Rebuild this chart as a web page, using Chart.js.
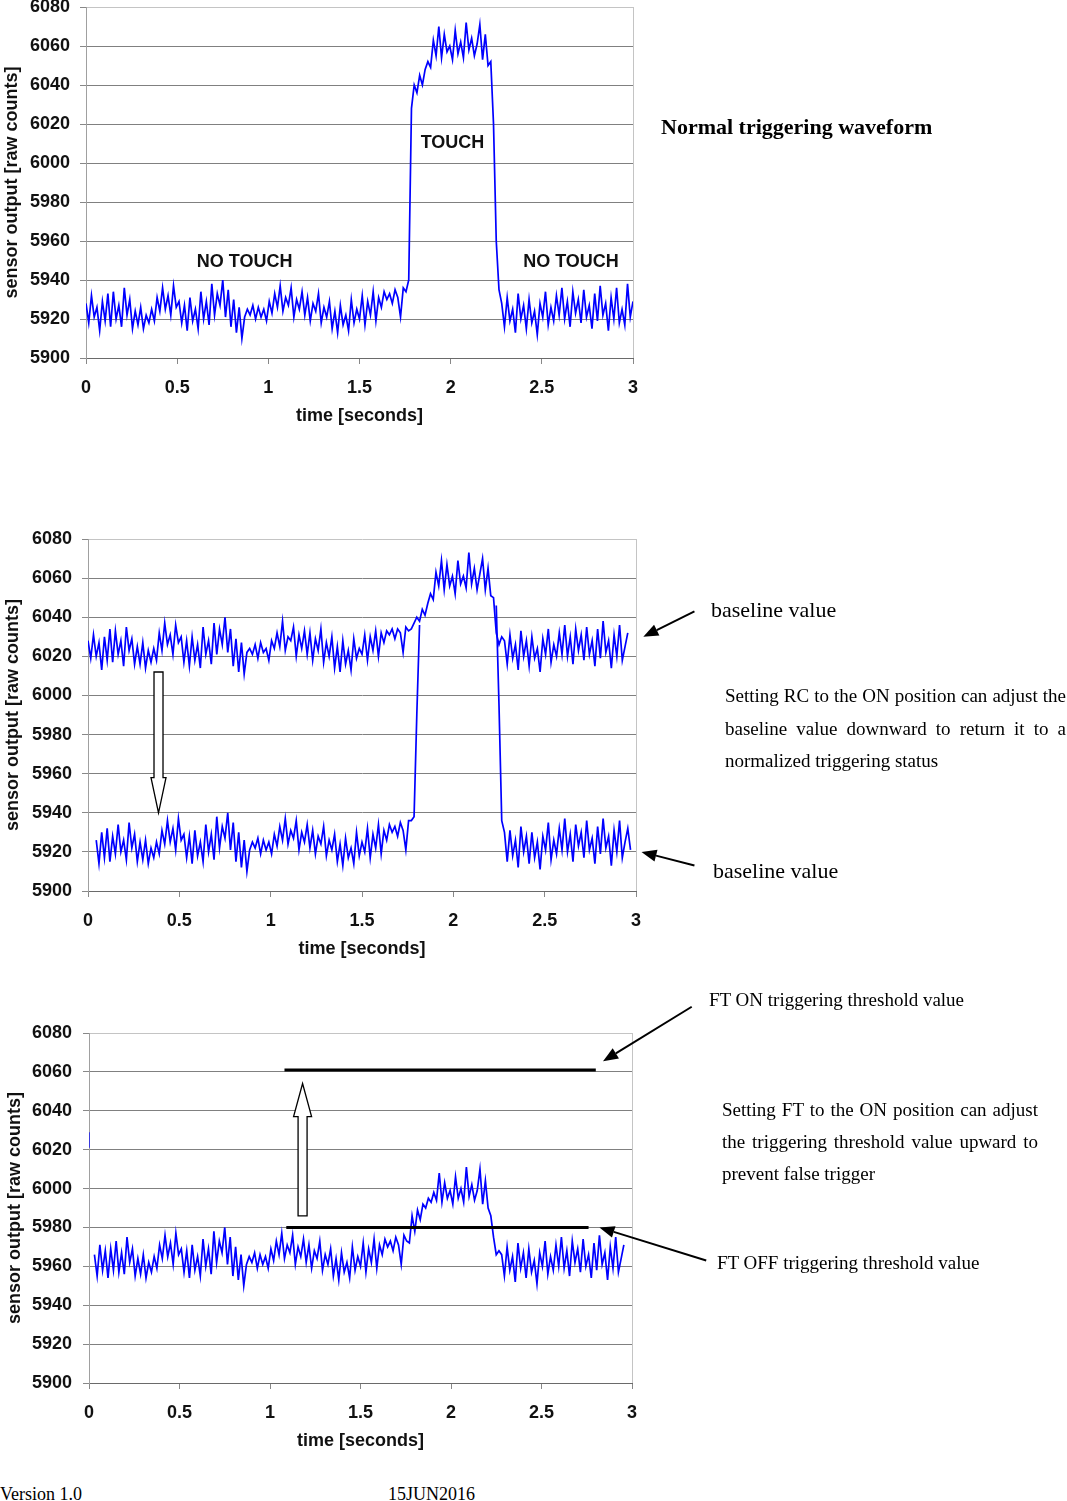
<!DOCTYPE html>
<html>
<head>
<meta charset="utf-8">
<script src="https://cdn.jsdelivr.net/npm/chart.js"></script>
<style>
  html, body { margin: 0; padding: 0; background: #fff; }
  body { position: relative; width: 1067px; height: 1501px; overflow: hidden; }
  canvas { position: absolute; left: 0; }
  .note { position: absolute; font-family: "Liberation Serif", "Times New Roman", serif; color: #000; white-space: nowrap; }
  .para div { text-align: justify; text-align-last: justify; white-space: normal; }
  .para div.last { text-align-last: left; }
</style>
</head>
<body>
<canvas id="chart1" width="1067" height="451" style="top:-23px"></canvas>
<canvas id="chart2" width="1067" height="452" style="top:509px"></canvas>
<canvas id="chart3" width="1067" height="450" style="top:1003px"></canvas>

<div class="note" style="left:661px; top:114px; font-size:22px; line-height:26px; font-weight:bold;">Normal triggering waveform</div>

<div class="note" style="left:711px; top:597px; font-size:22px; line-height:26px;">baseline value</div>
<div class="note para" style="left:725px; top:680px; width:341px; font-size:19px; line-height:32.5px;">
  <div>Setting RC to the ON position can adjust the</div>
  <div>baseline value downward to return it to a</div>
  <div class="last">normalized triggering status</div>
</div>
<div class="note" style="left:713px; top:858px; font-size:22px; line-height:26px;">baseline value</div>

<div class="note" style="left:709px; top:989px; font-size:19px; line-height:22px;">FT ON triggering threshold value</div>
<div class="note para" style="left:722px; top:1094px; width:316px; font-size:19px; line-height:32px;">
  <div>Setting FT to the ON position can adjust</div>
  <div>the triggering threshold value upward to</div>
  <div class="last">prevent false trigger</div>
</div>
<div class="note" style="left:717px; top:1252px; font-size:19px; line-height:22px;">FT OFF triggering threshold value</div>

<div class="note" style="left:0px; top:1484px; font-size:18px; line-height:20px;">Version 1.0</div>
<div class="note" style="left:388px; top:1484px; font-size:18px; line-height:20px;">15JUN2016</div>

<script>
// samples are 0.015 s apart, starting at t = 0
const timeStep = 0.015;
const xTicks = [0, 0.5, 1, 1.5, 2, 2.5, 3];
const yTicks = [5900, 5920, 5940, 5960, 5980, 6000, 6020, 6040, 6060, 6080];

// chart 1: normal triggering waveform
const c1Sensor = [
  5928, 5918, 5932, 5921, 5926, 5914, 5929, 5919, 5933, 5916,
  5934, 5920, 5927, 5916, 5936, 5922, 5930, 5915, 5924, 5917,
  5926, 5915, 5922, 5918, 5925, 5919, 5931, 5924, 5936, 5925,
  5932, 5922, 5937, 5926, 5929, 5918, 5927, 5914, 5931, 5919,
  5925, 5915, 5934, 5920, 5929, 5917, 5938, 5922, 5933, 5927,
  5940, 5921, 5935, 5916, 5930, 5913, 5926, 5910, 5921, 5925,
  5922, 5927, 5920, 5926, 5921, 5925, 5919, 5929, 5923, 5933,
  5926, 5937, 5924, 5931, 5927, 5936, 5921, 5930, 5925, 5934,
  5922, 5931, 5919, 5928, 5924, 5933, 5918, 5926, 5921, 5929,
  5915, 5924, 5913, 5927, 5917, 5922, 5914, 5930, 5918, 5925,
  5920, 5932, 5917, 5929, 5922, 5934, 5919, 5931, 5926, 5934,
  5930, 5933, 5928, 5935, 5931, 5921, 5936, 5934,
  5940, 6028, 6040, 6036, 6045, 6040, 6048, 6052, 6049,
  6063, 6055, 6070, 6054, 6066, 6057, 6060, 6053, 6068, 6056,
  6062, 6054, 6072, 6058, 6064, 6055, 6061, 6071, 6053, 6066, 6050,
  6052, 6020, 5960, 5935,
  5928, 5916, 5931, 5919, 5925, 5913, 5933, 5920, 5927, 5915,
  5930, 5918, 5924, 5912, 5928, 5921, 5934, 5917, 5926, 5919,
  5932, 5922, 5936, 5920, 5929, 5916, 5934, 5923, 5930, 5918,
  5935, 5921, 5927, 5915, 5933, 5919, 5937, 5922, 5928, 5914,
  5931, 5920, 5936, 5918, 5925, 5917, 5938, 5921, 5929
];

// chart 2: baseline drifted up (upper) and restored by RC (lower)
const c2Upper = [
  6028, 6019, 6031, 6020, 6027, 6013, 6030, 6018, 6034, 6017,
  6033, 6021, 6028, 6015, 6035, 6023, 6029, 6016, 6025, 6016,
  6027, 6014, 6023, 6017, 6024, 6018, 6032, 6023, 6037, 6026,
  6031, 6021, 6036, 6027, 6030, 6017, 6028, 6015, 6030, 6018,
  6026, 6014, 6035, 6021, 6028, 6016, 6037, 6021, 6034, 6026,
  6040, 6022, 6034, 6015, 6029, 6012, 6027, 6011, 6022, 6024,
  6021, 6026, 6019, 6027, 6022, 6024, 6018, 6028, 6024, 6032,
  6025, 6038, 6023, 6030, 6028, 6035, 6020, 6031, 6024, 6033,
  6021, 6032, 6018, 6029, 6023, 6034, 6017, 6027, 6020, 6030,
  6014, 6025, 6012, 6028, 6016, 6023, 6013, 6029, 6019, 6024,
  6021, 6031, 6018, 6030, 6023, 6033, 6020, 6032, 6027, 6033,
  6031, 6034, 6029, 6034, 6032, 6022, 6035, 6033,
  6034, 6037, 6040, 6038, 6044, 6041, 6047, 6052, 6049,
  6063, 6056, 6069, 6054, 6067, 6056, 6061, 6052, 6069, 6057,
  6061, 6055, 6073, 6057, 6065, 6054, 6062, 6070, 6054, 6065, 6051,
  6050, 6032, 6026, 6030,
  6028, 6016, 6031, 6019, 6026, 6013, 6033, 6020, 6028, 6015,
  6030, 6019, 6024, 6012, 6029, 6021, 6034, 6017, 6026, 6020,
  6032, 6021, 6036, 6020, 6030, 6016, 6034, 6023, 6031, 6018,
  6035, 6021, 6028, 6015, 6034, 6019, 6038, 6022, 6028, 6014,
  6031, 6020, 6036, 6018, 6025, 6032,
  null, null, null
];

const c2Lower = [
  null, null, null,
  5926, 5914, 5930, 5917, 5932, 5915, 5928, 5919, 5934, 5920,
  5926, 5916, 5935, 5922, 5929, 5915, 5925, 5916, 5926, 5914,
  5922, 5917, 5925, 5919, 5931, 5924, 5936, 5925, 5932, 5921,
  5937, 5926, 5929, 5917, 5928, 5914, 5931, 5918, 5925, 5915,
  5934, 5920, 5929, 5916, 5938, 5922, 5933, 5927, 5940, 5921,
  5935, 5915, 5930, 5912, 5926, 5910, 5921, 5925, 5922, 5927,
  5919, 5926, 5921, 5925, 5919, 5929, 5923, 5933, 5926, 5937,
  5924, 5931, 5927, 5936, 5921, 5930, 5925, 5934, 5922, 5931,
  5919, 5928, 5924, 5933, 5918, 5926, 5921, 5929, 5915, 5924,
  5913, 5927, 5917, 5922, 5914, 5930, 5918, 5925, 5920, 5932,
  5917, 5929, 5922, 5934, 5919, 5931, 5926, 5934, 5930, 5933,
  5928, 5935, 5931, 5921, 5936,
  5936, 5938, 5990, 6036,
  null, null, null, null, null, null, null, null, null, null,
  null, null, null, null, null, null, null, null, null, null,
  null, null, null, null, null, null, null,
  6046, 5995, 5936,
  5930, 5915, 5931, 5918, 5926, 5912, 5933, 5920, 5928, 5914,
  5930, 5917, 5925, 5911, 5928, 5921, 5935, 5916, 5926, 5919,
  5932, 5921, 5937, 5920, 5929, 5915, 5934, 5923, 5930, 5917,
  5936, 5921, 5927, 5914, 5933, 5919, 5937, 5922, 5928, 5913,
  5931, 5920, 5936, 5917, 5925, 5932, 5921,
  null, null
];

// chart 3: threshold adjustment with FT
const c3Sensor = [
  null, null,
  5966, 5955, 5971, 5958, 5968, 5954, 5969, 5958, 5973, 5957,
  5967, 5956, 5975, 5962, 5969, 5955, 5964, 5956, 5966, 5954,
  5962, 5957, 5965, 5959, 5971, 5964, 5976, 5965, 5972, 5961,
  5977, 5966, 5969, 5957, 5968, 5954, 5971, 5958, 5965, 5955,
  5974, 5960, 5969, 5956, 5978, 5962, 5973, 5967, 5980, 5961,
  5975, 5955, 5970, 5953, 5966, 5950, 5961, 5965, 5962, 5967,
  5959, 5966, 5961, 5965, 5959, 5969, 5963, 5973, 5966, 5977,
  5964, 5971, 5967, 5976, 5961, 5970, 5965, 5974, 5962, 5971,
  5959, 5968, 5964, 5973, 5958, 5966, 5961, 5969, 5955, 5964,
  5953, 5967, 5957, 5962, 5954, 5970, 5958, 5965, 5960, 5972,
  5957, 5969, 5962, 5974, 5959, 5971, 5966, 5974, 5970, 5973,
  5968, 5975, 5971, 5961, 5976, 5973,
  5972, 5986, 5978, 5989, 5984, 5992, 5990, 5995, 5993,
  5998, 5994, 6008, 5993, 6003, 5995, 5999, 5992, 6006, 5995,
  6000, 5993, 6011, 5996, 6002, 5994, 5999, 6010, 5992, 6004, 5990,
  5986, 5975, 5966, 5968,
  5966, 5955, 5970, 5958, 5965, 5952, 5972, 5959, 5967, 5954,
  5969, 5957, 5963, 5951, 5967, 5960, 5973, 5956, 5965, 5958,
  5971, 5960, 5975, 5959, 5968, 5955, 5973, 5962, 5969, 5957,
  5974, 5960, 5966, 5954, 5972, 5958, 5976, 5961, 5967, 5953,
  5970, 5959, 5975, 5957, 5964, 5971,
  null, null, null
];
const c3Stub = [6021, 6029];
const ftOnLevel = [6061, 6061];
const ftOnSpan = [1.08, 2.80];
const ftOffLevel = [5980, 5980];
const ftOffSpan = [1.09, 2.76];

const FONT = '"Liberation Sans", Arial, sans-serif';
const BLUE = '#0000ff';

function toPoints(values) {
  return values.map((v, i) => ({ x: +(i * timeStep).toFixed(3), y: v }));
}
function pair(span, level) {
  return span.map((t, i) => ({ x: t, y: level[i] }));
}

const annotate = {
  id: 'annotate',
  afterDatasetsDraw(chart, args, opts) {
    const { ctx } = chart;
    const x = chart.scales.x, y = chart.scales.y;
    ctx.save();
    (opts.labels || []).forEach(l => {
      ctx.font = 'bold 18px ' + FONT;
      ctx.fillStyle = '#111';
      ctx.textAlign = 'center';
      ctx.textBaseline = 'middle';
      ctx.fillText(l.text, x.getPixelForValue(l.t), y.getPixelForValue(l.v));
    });
    (opts.hollow || []).forEach(a => {
      const cx = x.getPixelForValue(a.t);
      const y0 = y.getPixelForValue(a.from);
      const yb = y.getPixelForValue(a.head);
      const y1 = y.getPixelForValue(a.to);
      const sw = a.shaft / 2, hw = a.width / 2;
      ctx.beginPath();
      ctx.moveTo(cx - sw, y0);
      ctx.lineTo(cx - sw, yb);
      ctx.lineTo(cx - hw, yb);
      ctx.lineTo(cx, y1);
      ctx.lineTo(cx + hw, yb);
      ctx.lineTo(cx + sw, yb);
      ctx.lineTo(cx + sw, y0);
      ctx.closePath();
      ctx.fillStyle = '#fff';
      ctx.fill();
      ctx.strokeStyle = '#000';
      ctx.lineWidth = 1.3;
      ctx.stroke();
    });
    (opts.pointers || []).forEach(p => {
      const x0 = x.getPixelForValue(p.fromT), y0 = y.getPixelForValue(p.fromV);
      const x1 = x.getPixelForValue(p.toT), y1 = y.getPixelForValue(p.toV);
      const ang = Math.atan2(y1 - y0, x1 - x0);
      const len = 15, hw = 6;
      const bx = x1 - len * Math.cos(ang), by = y1 - len * Math.sin(ang);
      ctx.strokeStyle = '#000';
      ctx.lineWidth = 2;
      ctx.beginPath();
      ctx.moveTo(x0, y0);
      ctx.lineTo(bx, by);
      ctx.stroke();
      ctx.beginPath();
      ctx.moveTo(x1, y1);
      ctx.lineTo(bx + hw * Math.sin(ang), by - hw * Math.cos(ang));
      ctx.lineTo(bx - hw * Math.sin(ang), by + hw * Math.cos(ang));
      ctx.closePath();
      ctx.fillStyle = '#000';
      ctx.fill();
    });
    ctx.restore();
  }
};

function makeChart(id, opt) {
  const tickFont = { family: FONT, size: 18, weight: 'bold' };
  return new Chart(document.getElementById(id), {
    type: 'line',
    data: { datasets: opt.datasets },
    plugins: [annotate],
    options: {
      responsive: false,
      animation: false,
      events: [],
      layout: { padding: { left: 0, right: 1067 - opt.right, top: 30, bottom: 0 } },
      plugins: {
        legend: { display: false },
        tooltip: { enabled: false },
        annotate: opt.notes
      },
      elements: { point: { radius: 0 }, line: { tension: 0 } },
      scales: {
        x: {
          type: 'linear', min: 0, max: 3,
          afterBuildTicks: s => { s.ticks = xTicks.map(v => ({ value: v })); },
          afterFit: s => { s.height = 70; },
          ticks: { padding: 13, color: '#111', font: tickFont, maxRotation: 0, callback: v => String(v) },
          grid: {
            color: c => (c.tick && c.tick.value === 3) ? '#c4c4c4' : 'rgba(0,0,0,0)',
            tickColor: '#888', tickLength: 6
          },
          border: { color: '#6a6a6a', width: 1 },
          title: { display: true, text: 'time [seconds]', color: '#111', font: tickFont, padding: { top: 0, bottom: 1 } }
        },
        y: {
          min: 5900, max: 6080,
          afterBuildTicks: s => { s.ticks = yTicks.map(v => ({ value: v })); },
          afterFit: s => { s.width = opt.left; },
          ticks: { padding: opt.left - opt.labelRight - 6, color: '#111', font: tickFont, callback: v => String(v) },
          grid: {
            color: c => (c.tick && c.tick.value === 6080) ? '#c4c4c4' : '#808080',
            tickColor: '#888', tickLength: 6
          },
          border: { color: '#a0a0a0', width: 1 },
          title: { display: true, text: 'sensor output [raw counts]', color: '#111', font: tickFont, padding: { top: opt.titlePad, bottom: 0 } }
        }
      }
    }
  });
}

function trace(values) {
  return { data: toPoints(values), borderColor: BLUE, borderWidth: 1.7, spanGaps: false };
}

makeChart('chart1', {
  left: 86, right: 633, labelRight: 70, titlePad: 1,
  datasets: [trace(c1Sensor)],
  notes: {
    labels: [
      { text: 'NO TOUCH', t: 0.87, v: 5949 },
      { text: 'TOUCH', t: 2.01, v: 6010 },
      { text: 'NO TOUCH', t: 2.66, v: 5949 }
    ]
  }
});

makeChart('chart2', {
  left: 88, right: 636, labelRight: 72, titlePad: 2,
  datasets: [trace(c2Upper), trace(c2Lower)],
  notes: {
    hollow: [{ t: 0.386, from: 6012, head: 5958, to: 5940, shaft: 9, width: 15 }],
    pointers: [
      { fromT: 3.32, fromV: 6043, toT: 3.04, toV: 6030 },
      { fromT: 3.32, fromV: 5913, toT: 3.03, toV: 5920 }
    ]
  }
});

makeChart('chart3', {
  left: 89, right: 632, labelRight: 72, titlePad: 4,
  datasets: [
    { data: pair(ftOnSpan, ftOnLevel), borderColor: '#000', borderWidth: 3 },
    { data: pair(ftOffSpan, ftOffLevel), borderColor: '#000', borderWidth: 3 },
    trace(c3Sensor),
    { data: c3Stub.map(v => ({ x: 0, y: v })), borderColor: BLUE, borderWidth: 1.3 }
  ],
  notes: {
    hollow: [{ t: 1.18, from: 5986, head: 6037, to: 6054, shaft: 9, width: 18 }],
    pointers: [
      { fromT: 3.33, fromV: 6093.5, toT: 2.84, toV: 6065.5 },
      { fromT: 3.41, fromV: 5963, toT: 2.82, toV: 5980 }
    ]
  }
});
</script>
</body>
</html>
